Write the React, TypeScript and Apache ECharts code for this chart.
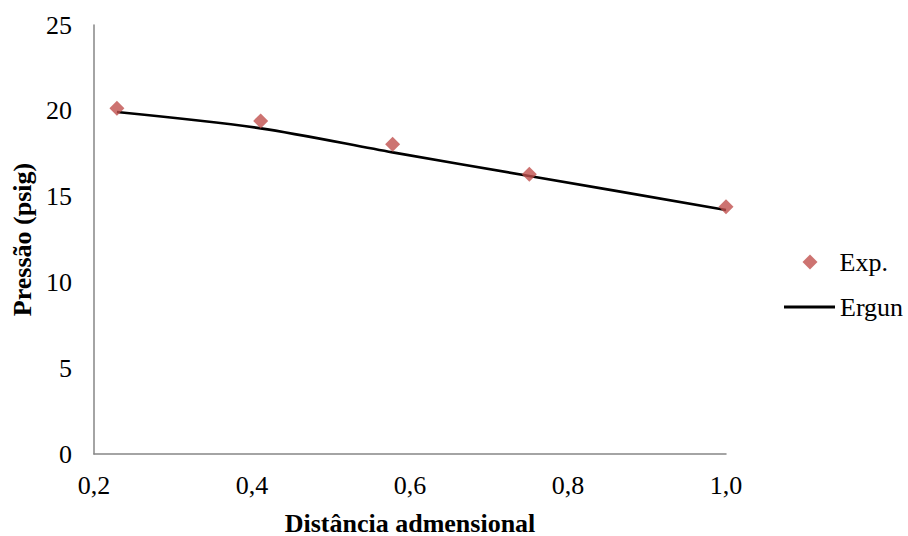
import React, { useEffect, useRef } from "react";
import * as echarts from "echarts";

// Dimensionless distance along the bed
const expX = [0.229, 0.411, 0.578, 0.751, 1.0];
// Measured pressure (psig)
const expY = [20.15, 19.41, 18.05, 16.3, 14.41];
// Ergun equation prediction
const ergunX = [0.229, 0.411, 0.578, 0.751, 1.0];
const ergunY = [19.93, 18.98, 17.58, 16.2, 14.22];

const xTicks = [0.2, 0.4, 0.6, 0.8, 1.0];

const FONT = "Liberation Serif";
const FS = 26;

export default function App() {
  const ref = useRef<HTMLDivElement>(null);

  useEffect(() => {
    if (!ref.current) return;
    const chart = echarts.init(ref.current, undefined, { renderer: "svg" });
    chart.setOption({
      animation: false,
      backgroundColor: "#ffffff",
      textStyle: { fontFamily: FONT },
      grid: { left: 94, top: 25, right: 182, bottom: 82, outerBoundsMode: "none" },
      legend: [
        {
          data: ["Exp."],
          left: 802.5,
          top: 249,
          padding: 0,
          icon: "diamond",
          itemWidth: 15,
          itemHeight: 15,
          textStyle: { fontFamily: FONT, fontSize: FS, color: "#000", padding: [0, 0, 0, 17] },
        },
        {
          data: [{ name: "Ergun", icon: "rect" }],
          left: 784,
          top: 294,
          padding: 0,
          itemWidth: 51,
          itemHeight: 3,
          itemStyle: { color: "#000000" },
          textStyle: { fontFamily: FONT, fontSize: FS, color: "#000" },
        },
      ],
      xAxis: {
        type: "value",
        min: 0.2,
        max: 1.0,
        interval: 0.2,
        name: "Distância admensional",
        nameLocation: "middle",
        nameGap: 56,
        nameTextStyle: { fontFamily: FONT, fontSize: FS, fontWeight: "bold", color: "#000" },
        axisLine: { lineStyle: { color: "#868686", width: 1.5 } },
        axisTick: { show: false },
        splitLine: { show: false },
        axisLabel: {
          fontFamily: FONT,
          fontSize: FS,
          color: "#000",
          margin: 18,
          formatter: (v: number) => {
            const t = xTicks.find((x) => Math.abs(x - v) < 1e-6);
            return t === undefined ? "" : t.toFixed(1).replace(".", ",");
          },
        },
      },
      yAxis: {
        type: "value",
        min: 0,
        max: 25,
        interval: 5,
        name: "Pressão (psig)",
        nameLocation: "middle",
        nameGap: 58,
        nameTextStyle: { fontFamily: FONT, fontSize: FS, fontWeight: "bold", color: "#000" },
        axisLine: { show: true, lineStyle: { color: "#868686", width: 1.5 } },
        axisTick: { show: false },
        splitLine: { show: false },
        axisLabel: { fontFamily: FONT, fontSize: FS, color: "#000", margin: 22 },
      },
      series: [
        {
          name: "Ergun",
          type: "line",
          data: ergunX.map((x, i) => [x, ergunY[i]]),
          smooth: 0.3,
          showSymbol: false,
          symbol: "none",
          lineStyle: { color: "#000000", width: 2.75 },
          itemStyle: { color: "#000000" },
          z: 2,
        },
        {
          name: "Exp.",
          type: "scatter",
          data: expX.map((x, i) => [x, expY[i]]),
          symbol: "diamond",
          symbolSize: 15,
          itemStyle: { color: "#C0504D" },
          z: 3,
        },
      ],
    });
    return () => chart.dispose();
  }, []);

  return (
    <div
      ref={ref}
      style={{ position: "absolute", left: 0, top: 0, width: 908, height: 536 }}
    />
  );
}
